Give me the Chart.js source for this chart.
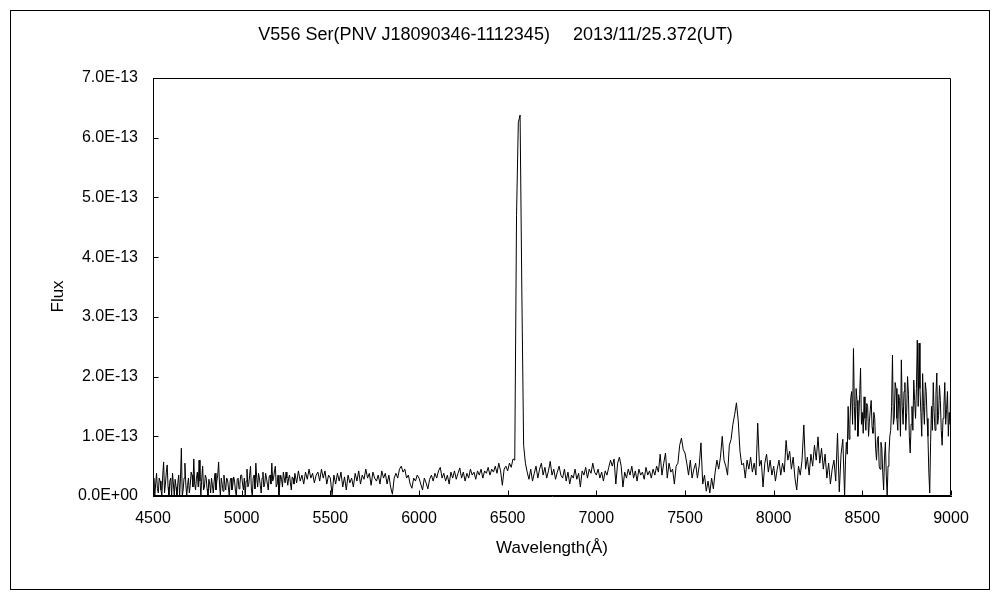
<!DOCTYPE html>
<html><head><meta charset="utf-8">
<script src="https://cdn.jsdelivr.net/npm/chart.js@4"></script>
<style>html,body{margin:0;padding:0;background:#fff;}</style>
</head><body>
<canvas id="c" width="1000" height="600"></canvas>
<script>
// ---- text ----
const titleText = 'V556 Ser(PNV J18090346-1112345)\u3000 2013/11/25.372(UT)';
const xAxisTitle = 'Wavelength(\u00C5)';
const yAxisTitle = 'Flux    ';

// ---- axes ----
const xMin = 4500, xMax = 9000, xStep = 500;
const yMin = 0, yMax = 7, yStep = 1;   // flux in units of 1E-13

// ---- spectrum: flux (1E-13), one array per wavelength block ----
const flux4500_5A = [0.15,0.3,0.0,0.2,0.38,0.12,0.05,0.3,0.25,0.1, 0.0,0.35,0.57,0.05,0.2,0.4,0.52,0.15,0.0,0.25,
  0.3,0.0,0.38,0.2,0.0,0.28,0.15,0.0,0.22,0.35, 0.0,0.3,0.8,0.0,0.1,0.3,0.55,0.2,0.0,0.18,
  0.3,0.05,0.18,0.4,0.35,0.15,0.62,0.2,0.1,0.3, 0.4,0.15,0.6,0.25,0.0,0.3,0.5,0.1,0.15,0.35,
  0.3,0.12,0.0,0.28,0.2,0.05,0.3,0.18,0.05,0.25, 0.38,0.1,0.25,0.35,0.57,0.2,0.0,0.3,0.2,0.08,
  0.35,0.2,0.1,0.3,0.28,0.15,0.0,0.25,0.3,0.1, 0.18,0.32,0.25,0.08,0.0,0.28,0.3,0.12,0.2,0.35];
const flux5000_5A = [0.35,0.2,0.1,0.3,0.0,0.25,0.45,0.15,0.2,0.35, 0.5,0.1,0.0,0.3,0.35,0.12,0.55,0.3,0.15,0.38,
  0.3,0.18,0.05,0.3,0.4,0.15,0.2,0.38,0.3,0.2, 0.1,0.32,0.35,0.2,0.55,0.25,0.3,0.42,0.5,0.15,
  0.2,0.35,0.0,0.2,0.35,0.28,0.15,0.4,0.3,0.22, 0.4,0.3,0.18,0.3,0.35,0.22,0.1,0.32,0.3,0.2];
const flux5300 = [0.38,0.22,0.42,0.25,0.35,0.2,0.4,0.28,0.45,0.3, 0.38,0.22,0.35,0.4,0.25,0.45,0.3,0.42,0.2,0.35];
const flux5500 = [0.3,0.02,0.35,0.2,0.38,0.25,0.4,0.15,0.32,0.1, 0.35,0.22,0.3,0.15,0.38,0.25,0.42,0.2,0.35,0.28,
  0.45,0.3,0.38,0.18,0.4,0.3,0.25,0.35,0.2,0.42, 0.3,0.38,0.2,0.35,0.15,0.03,0.3,0.38,0.3,0.45,
  0.5,0.4,0.45,0.3,0.35,0.2,0.13,0.3,0.25,0.35];
const flux6000 = [0.3,0.2,0.1,0.3,0.22,0.12,0.28,0.35,0.25,0.38, 0.3,0.42,0.48,0.3,0.38,0.25,0.35,0.2,0.4,0.3,
  0.42,0.28,0.38,0.47,0.3,0.4,0.25,0.38,0.3,0.45, 0.35,0.4,0.28,0.42,0.35,0.45,0.3,0.42,0.38,0.48,
  0.35,0.45,0.4,0.5,0.38,0.55,0.42,0.18,0.45,0.5];
const flux6500 = [0.42,0.55,0.48,0.62,0.6,4.7,6.25,6.38,3.4,0.85, 0.55,0.4,0.28,0.45,0.25,0.38,0.5,0.3,0.45,0.55,
  0.35,0.48,0.3,0.42,0.58,0.35,0.45,0.28,0.4,0.5, 0.35,0.3,0.45,0.25,0.4,0.2,0.35,0.3,0.45,0.28,
  0.38,0.15,0.42,0.35,0.48,0.3,0.45,0.38,0.55,0.4];
const flux7000 = [0.35,0.45,0.3,0.4,0.25,0.42,0.35,0.48,0.6,0.5, 0.62,0.2,0.55,0.65,0.5,0.15,0.4,0.3,0.45,0.35,
  0.5,0.3,0.42,0.25,0.45,0.35,0.4,0.28,0.48,0.35, 0.42,0.3,0.45,0.35,0.5,0.4,0.7,0.35,0.55,0.72,
  0.3,0.55,0.4,0.45,0.2,0.5,0.55,0.85,0.97,0.78];
const flux7500 = [0.72,0.55,0.35,0.6,0.3,0.45,0.55,0.3,0.5,0.89, 0.2,0.35,0.08,0.25,0.05,0.3,0.12,0.4,0.6,0.45,
  0.65,1.0,0.6,0.5,0.35,0.85,0.95,1.2,1.36,1.56, 1.27,0.75,0.52,0.55,0.3,0.6,0.45,0.65,0.4,0.55,
  0.35,1.22,0.5,0.6,0.15,0.55,0.7,0.4,0.6,0.35];
const flux8000 = [0.5,0.25,0.45,0.6,0.35,0.55,0.4,0.93,0.6,0.75, 0.45,0.65,0.3,0.1,0.5,0.35,0.6,1.19,0.45,0.65,
  0.35,0.7,0.5,0.85,0.6,0.99,0.55,0.8,0.45,0.7, 0.3,0.55,0.2,0.45,0.6,0.25,1.05,0.07,0.7,0.95];
const flux8400_5A = [0.0,0.6,0.9,0.7,1.5,0.95,1.2,1.65,1.75,1.2, 2.47,1.5,1.1,1.8,1.6,1.0,1.3,1.7,2.14,1.2,
  1.4,1.05,1.66,1.3,1.1,1.55,1.5,1.0,1.25,1.45, 1.6,1.15,1.05,1.4,1.3,0.8,0.6,0.95,1.0,0.5,
  0.45,0.9,0.8,0.4,0.1,0.65,0.9,0.35,0.0,0.5, 0.7,1.0,1.1,1.5,2.36,1.2,1.3,1.9,1.8,1.3,
  1.1,1.7,1.6,1.0,2.28,1.5,1.2,1.75,1.9,1.1, 1.4,2.0,1.7,1.0,0.72,1.2,1.5,1.1,1.94,1.6,
  1.3,1.8,2.61,1.5,2.56,1.8,1.4,1.0,2.05,1.5, 1.2,1.9,1.75,1.3,1.0,0.4,0.05,0.9,1.5,1.1,
  1.9,1.4,1.1,1.7,2.06,1.2,1.35,1.85,1.6,1.1, 0.85,1.3,1.5,1.9,1.2,1.45,1.75,1.0,1.4,1.2,
  2.58];

// [start wavelength (A), sampling step (A), flux values]
const blocks = [[4500, 5, flux4500_5A], [5000, 5, flux5000_5A], [5300, 10, flux5300], [5500, 10, flux5500],
  [6000, 10, flux6000], [6500, 10, flux6500], [7000, 10, flux7000], [7500, 10, flux7500],
  [8000, 10, flux8000], [8400, 5, flux8400_5A]];
const points = [];
blocks.forEach(([start, step, arr]) => arr.forEach((v, i) => points.push({x: start + i * step, y: v})));

const FAMILY = "'Liberation Sans', Arial, sans-serif";
const TICK_FONT = {family: FAMILY, size: 16, weight: 'normal', lineHeight: 1.2};
const TITLE_FONT = {family: FAMILY, size: 18, weight: 'normal', lineHeight: 1.2};
const XT_FONT = {family: FAMILY, size: 17, weight: 'normal', lineHeight: 1.2};
const YT_FONT = {family: FAMILY, size: 17, weight: 'normal', lineHeight: 1.2};

const framePlugin = {
  id: 'frame',
  afterDraw(chart) {
    const {ctx, chartArea: a, scales} = chart;
    ctx.save();
    ctx.strokeStyle = '#000';
    ctx.lineWidth = 1;
    const L = Math.round(a.left) + 0.5, R = Math.round(a.right) - 0.5, T = Math.round(a.top) + 0.5, B = Math.round(a.bottom) - 0.5;
    ctx.beginPath();
    ctx.moveTo(L, T); ctx.lineTo(R, T); ctx.lineTo(R, B); ctx.lineTo(L, B); ctx.closePath();
    ctx.stroke();
    ctx.beginPath();
    scales.x.ticks.forEach(t => {
      const px = Math.round(scales.x.getPixelForValue(t.value)) + 0.5;
      ctx.moveTo(px, B); ctx.lineTo(px, B - 5);
    });
    scales.y.ticks.forEach(t => {
      const py = Math.round(scales.y.getPixelForValue(t.value)) + 0.5;
      ctx.moveTo(L, py); ctx.lineTo(L + 5, py);
    });
    ctx.stroke();
    ctx.strokeRect(10.5, 10.5, 979, 579);
    ctx.restore();
  }
};

new Chart(document.getElementById('c'), {
  type: 'line',
  data: { datasets: [{ data: points, borderColor: '#000', borderWidth: 1, pointRadius: 0, tension: 0, fill: false }] },
  options: {
    responsive: false, animation: false, devicePixelRatio: 1,
    layout: { padding: { left: 40, right: 49, top: 10, bottom: 30 } },
    plugins: {
      legend: { display: false }, tooltip: { enabled: false },
      title: { display: true, text: titleText, color: '#000', font: TITLE_FONT, padding: { top: 14.2, bottom: 32.2 } }
    },
    scales: {
      x: {
        type: 'linear', min: xMin, max: xMax,
        ticks: { stepSize: xStep, color: '#000', font: TICK_FONT, padding: 13.4, maxRotation: 0, autoSkip: false,
          callback: v => String(v) },
        grid: { display: true, drawOnChartArea: false, drawTicks: false },
        border: { color: '#000', width: 1 },
        title: { display: true, text: xAxisTitle, color: '#000', font: XT_FONT, padding: 11.6 },
        afterFit(s) { s.height = 74; s.paddingLeft = 0; s.paddingRight = 0; }
      },
      y: {
        type: 'linear', min: yMin, max: yMax,
        ticks: { stepSize: yStep, color: '#000', font: TICK_FONT, padding: 15,
          callback: v => v === 0 ? '0.0E+00' : v.toFixed(1) + 'E-13' },
        grid: { display: true, drawOnChartArea: false, drawTicks: false },
        border: { color: '#000', width: 1 },
        title: { display: true, text: yAxisTitle, color: '#000', font: YT_FONT, padding: 7.8 },
        afterFit(s) { s.width = 113; s.paddingTop = 0; s.paddingBottom = 0; }
      }
    }
  },
  plugins: [framePlugin]
});
</script>
</body></html>
